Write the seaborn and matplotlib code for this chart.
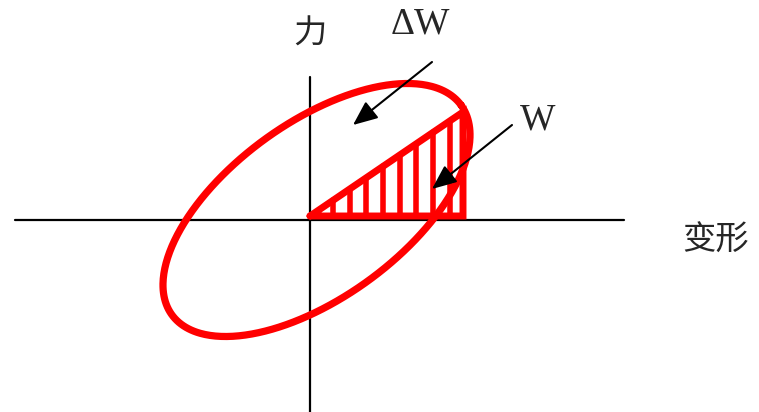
import numpy as np
import matplotlib
matplotlib.use("Agg")
import matplotlib.pyplot as plt
import seaborn as sns

# 力-变形 滞回曲线示意图 (坐标原点在两轴交点, 单位约为像素)
eje_h_x = [-295, 314]
eje_h_y = [0, 0]
eje_v_x = [0, 0]
eje_v_y = [-192, 143]

# 椭圆: 中心, 半轴, 倾角
centro = (6.5, 10.0)
semi_ejes = (178.6, 87.6)
angulo = 35.9

# 三角形 W
tri_x = [0, 153, 153, 0]
tri_y = [4, 108, 4, 4]
rayas_x = [23, 40, 56, 73, 90, 106, 123, 140]

# 标注
etiquetas = ["力", "ΔW", "W", "变形"]
pos_etiquetas = [(0, 186), (110, 196), (228, 100), (406, -20)]
flecha_dw = ((122, 158), (43, 95))   # (cola, punta)
flecha_w = ((202, 95), (122, 31))

sns.set_style("white")
plt.rcParams["font.family"] = ["Noto Sans CJK SC", "DejaVu Sans"]

fig = plt.figure(figsize=(7.59, 4.12), dpi=100)
ax = fig.add_axes([0, 0, 1, 1])
ax.set_xlim(-310, 449)
ax.set_ylim(-192, 220)
ax.axis("off")

sns.lineplot(x=eje_h_x, y=eje_h_y, color="black", lw=1.6, ax=ax)
sns.lineplot(x=eje_v_x, y=eje_v_y, color="black", lw=1.6, ax=ax, sort=False, estimator=None)

t = np.linspace(0, 2 * np.pi, 400)
a, b = semi_ejes
th = np.deg2rad(angulo)
ex = centro[0] + a * np.cos(t) * np.cos(th) - b * np.sin(t) * np.sin(th)
ey = centro[1] + a * np.cos(t) * np.sin(th) + b * np.sin(t) * np.cos(th)
sns.lineplot(x=ex, y=ey, sort=False, estimator=None, color="#ff0000", lw=5.2, ax=ax)

ax.plot(tri_x, tri_y, color="#ff0000", lw=5.0, solid_joinstyle="miter")
pendiente = (tri_y[1] - tri_y[0]) / (tri_x[1] - tri_x[0])
for x in rayas_x:
    ax.plot([x, x], [tri_y[0], tri_y[0] + pendiente * x], color="#ff0000", lw=4.0)

for texto, (x, y) in zip(etiquetas, pos_etiquetas):
    if texto in ("ΔW", "W"):
        ax.text(x, y, texto, fontsize=27, family="Liberation Serif", ha="center", va="center")
    else:
        ax.text(x, y, texto, fontsize=24, ha="center", va="center")

for cola, punta in (flecha_dw, flecha_w):
    ax.annotate("", xy=punta, xytext=cola,
                arrowprops=dict(arrowstyle="-|>,head_length=0.75,head_width=0.32",
                                mutation_scale=20, color="black", lw=1.5,
                                shrinkA=0, shrinkB=0))

fig.savefig("out.png", dpi=100)
